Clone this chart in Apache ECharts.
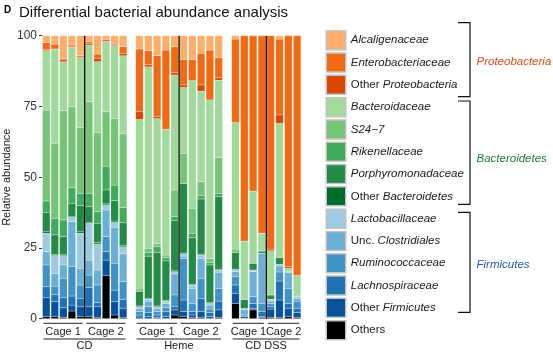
<!DOCTYPE html>
<html>
<head>
<meta charset="utf-8">
<script src="https://cdn.jsdelivr.net/npm/echarts@6/dist/echarts.min.js"></script>
<style>
  html, body { margin: 0; padding: 0; background: #fff; }
  #chart { width: 553px; height: 353px; }
</style>
</head>
<body>
<div id="chart"></div>
<script>
// samples per panel
var cdSamples = ['CD-1', 'CD-2', 'CD-3', 'CD-4', 'CD-5', 'CD-6', 'CD-7', 'CD-8', 'CD-9', 'CD-10']
var hemeSamples = ['H-1', 'H-2', 'H-3', 'H-4', 'H-5', 'H-6', 'H-7', 'H-8', 'H-9', 'H-10']
var dssSamples = ['D-1', 'D-2', 'D-3', 'D-4', 'D-5', 'D-6', 'D-7', 'D-8']
var groupNames = ['CD', 'Heme', 'CD DSS']
var cageNames = ['Cage 1', 'Cage 2']
var cage1Size = [5, 5, 4]
var yTicks = [0, 25, 50, 75, 100]

// relative abundance (%), 28 samples: CD x10, Heme x10, CD DSS x8
var others = [0.7, 0.7, 0.4, 2.7, 0.7, 0.7, 0.4, 15.2, 1.3, 0.4, 0, 0, 0, 0, 1.3, 0.7, 0.4, 0.4, 0, 0.4, 5.4, 0.2, 3.1, 0.4, 0.4, 0.4, 0.7, 0.4]
var otherFirmicutes = [6.7, 5.3, 3.5, 2.1, 3.5, 3.5, 3.8, 5.5, 4.7, 3.3, 0.6, 0.7, 0.5, 0.7, 1.8, 1.8, 0.9, 2.1, 0.7, 2.7, 3.6, 0.5, 0.4, 0.3, 3.0, 6.2, 3.0, 1.8]
var lachnospiraceae = [3.9, 2.5, 3.5, 3.2, 3.0, 6.8, 1.5, 3.0, 4.1, 3.1, 0.7, 1.5, 0.8, 1.8, 1.1, 4.1, 1.2, 4.7, 1.5, 3.1, 2.9, 0.3, 1.9, 1.8, 0.8, 6.7, 1.7, 1.5]
var ruminococcaceae = [7.7, 3.0, 6.9, 10.4, 4.7, 4.4, 6.2, 5.3, 9.5, 6.3, 1.2, 2.0, 1.2, 1.4, 4.2, 14.7, 2.9, 7.1, 1.2, 4.5, 2.9, 0.6, 2.4, 2.9, 1.2, 3.2, 5.3, 2.5]
var uncClostridiales = [4.7, 4.5, 4.7, 15.9, 5.9, 5.3, 5.3, 9.4, 12.7, 9.8, 1.0, 2.0, 1.0, 1.5, 7.4, 0.8, 5.3, 7.0, 1.4, 5.7, 1.8, 1.5, 8.8, 17.7, 0.8, 2.1, 5.7, 1.0]
var lactobacillaceae = [6.5, 6.3, 3.3, 1.5, 12.4, 13.0, 9.2, 1.8, 1.7, 2.5, 0.7, 0.7, 0.7, 0.8, 0.8, 0.8, 1.2, 1.2, 0.6, 0.8, 0.8, 0.5, 0.6, 0, 0.7, 0.6, 0.2, 0.8]
var otherBacteroidetes = [0.5, 0.4, 0.5, 0.4, 0.5, 0.4, 0.5, 0.4, 0.5, 0.5, 0.3, 0.3, 0.3, 0.3, 0.3, 0.3, 0.3, 0.3, 0.3, 0.3, 0, 0, 0, 0, 0, 0, 0, 0]
var porphyromonadaceae = [6.9, 6.9, 6.2, 4.6, 9.3, 5.5, 6.8, 4.9, 7.2, 8.0, 5.1, 14.9, 18.9, 13.9, 17.7, 24.6, 16.4, 19.5, 13.3, 25.6, 6.0, 3.2, 2.4, 0.8, 1.5, 2.4, 0, 0]
var rikenellaceae = [4.0, 5.9, 5.9, 5.5, 4.3, 4.7, 4.1, 8.4, 5.5, 5.3, 0.5, 1.3, 2.0, 1.2, 1.4, 0, 1.6, 1.2, 0.9, 1.2, 0, 0, 0, 0, 0, 0, 0, 0]
var s247 = [32.1, 26.5, 38.6, 28.6, 23.3, 32.4, 27.9, 19.2, 23.6, 26.1, 0.7, 1.5, 1.2, 0.9, 9.5, 10.6, 8.8, 4.9, 1.4, 12.6, 1.2, 0, 0, 0, 0, 0, 0, 0]
var bacteroidaceae = [21.0, 33.3, 17.3, 21.0, 24.7, 20.0, 25.1, 24.9, 25.7, 27.6, 59.6, 64.1, 44.1, 44.4, 40.6, 23.3, 45.1, 32.0, 56.0, 27.4, 44.7, 20.6, 25.5, 6.3, 15.6, 47.4, 1.2, 7.3]
var otherProteobacteria = [0.5, 0, 0.7, 0.4, 0.5, 0.6, 1.2, 0.5, 0.3, 0.9, 2.7, 0.8, 0.7, 0, 0.8, 0.9, 0, 2.2, 0, 0.9, 0, 0, 0, 0, 0.6, 3.0, 0.6, 0]
var enterobacteriaceae = [2.4, 1.7, 0.5, 0.4, 0.2, 0.5, 1.5, 0.3, 0.5, 2.3, 22.2, 4.9, 21.5, 28.0, 9.2, 9.0, 7.5, 11.2, 17.6, 7.1, 29.5, 72.6, 54.9, 69.8, 75.4, 26.8, 81.6, 84.7]
var alcaligenaceae = [2.4, 3.0, 8.0, 3.3, 7.0, 2.2, 6.5, 1.2, 2.7, 3.9, 4.7, 5.3, 7.1, 5.1, 3.9, 8.4, 8.4, 6.2, 5.1, 7.7, 1.2, 0, 0, 0, 0, 1.2, 0, 0]

// stacking order, bottom first
var taxa = [
  ['Others', others],
  ['Other Firmicutes', otherFirmicutes],
  ['Lachnospiraceae', lachnospiraceae],
  ['Ruminococcaceae', ruminococcaceae],
  ['Unc. Clostridiales', uncClostridiales],
  ['Lactobacillaceae', lactobacillaceae],
  ['Other Bacteroidetes', otherBacteroidetes],
  ['Porphyromonadaceae', porphyromonadaceae],
  ['Rikenellaceae', rikenellaceae],
  ['S24\u22127', s247],
  ['Bacteroidaceae', bacteroidaceae],
  ['Other Proteobacteria', otherProteobacteria],
  ['Enterobacteriaceae', enterobacteriaceae],
  ['Alcaligenaceae', alcaligenaceae]
]
var colors = ['#000000', '#08519c', '#2171b5', '#4292c6', '#6baed6', '#9ecae1',
  '#006d2c', '#238b45', '#41ab5d', '#74c476', '#a1d99b',
  '#d94801', '#f16913', '#fdae6b']

var FONT = 'Liberation Sans, Arial, sans-serif'
var chart = echarts.init(document.getElementById('chart'))
var panels = [cdSamples, hemeSamples, dssSamples]
// panel placement (px)
var gridLeft = [39.4, 135.1, 231.1]
var slotW = 8.8

var grids = []
var xAxes = []
var yAxes = []
var series = []
var offset = 0
panels.forEach(function (cats, gi) {
  grids.push({ left: gridLeft[gi], width: cats.length * slotW, top: 35.7, bottom: 34.3 })
  xAxes.push({
    gridIndex: gi, type: 'category', data: cats,
    axisLine: { show: false }, axisTick: { show: false }, axisLabel: { show: false }
  })
  yAxes.push({
    gridIndex: gi, type: 'value', min: 0, max: 100, interval: 25,
    show: gi === 0,
    name: gi === 0 ? 'Relative abundance' : '',
    nameLocation: 'middle', nameGap: 30,
    nameTextStyle: { fontSize: 11, color: '#1a1a1a', fontFamily: FONT },
    axisLine: { show: false },
    axisTick: { show: true, length: 3, lineStyle: { color: '#333' } },
    axisLabel: { fontSize: 12, color: '#333', fontFamily: FONT, margin: 5,
      formatter: function (v) { return yTicks.indexOf(v) >= 0 ? String(v) : '' } },
    splitLine: { show: false }
  })
  var start = offset
  taxa.forEach(function (t, ti) {
    series.push({
      type: 'bar', name: t[0], stack: 'p' + gi,
      xAxisIndex: gi, yAxisIndex: gi,
      barWidth: 7.6,
      data: t[1].slice(start, start + cats.length),
      itemStyle: { color: colors[ti], borderColor: 'rgba(255,255,255,0.35)', borderWidth: 0.3 },
      emphasis: { disabled: true }
    })
  })
  offset += cats.length
})

function legendLabel (name) {
  if (name === 'Others') return '{n|Others}'
  if (name.indexOf('Other ') === 0) return '{n|Other }{i|' + name.slice(6) + '}'
  if (name.indexOf('Unc. ') === 0) return '{n|Unc. }{i|' + name.slice(5) + '}'
  return '{i|' + name + '}'
}

var option = {
  animation: false,
  title: [
    { text: 'D', left: 4, top: 5, padding: 0, textStyle: { fontSize: 10, fontWeight: 'bold', color: '#000', fontFamily: FONT } },
    { text: 'Differential bacterial abundance analysis', left: 19, top: 5.5, padding: 0, textStyle: { fontSize: 15, fontWeight: 'normal', color: '#111', fontFamily: FONT } }
  ],
  grid: grids,
  xAxis: xAxes,
  yAxis: yAxes,
  legend: {
    orient: 'vertical', left: 325.5, top: 30, padding: 0, height: 340,
    itemWidth: 19.5, itemHeight: 19, itemGap: 1.8,
    selectedMode: false, icon: 'rect',
    data: taxa.map(function (t) { return t[0] }).reverse(),
    itemStyle: { borderColor: '#c4c4c4', borderWidth: 1.5 },
    formatter: legendLabel,
    textStyle: {
      fontSize: 11.5, color: '#1a1a1a', fontFamily: FONT,
      rich: {
        n: { fontSize: 11.5, color: '#1a1a1a', fontFamily: FONT, fontStyle: 'normal' },
        i: { fontSize: 11.5, color: '#1a1a1a', fontFamily: FONT, fontStyle: 'italic' }
      }
    }
  },
  series: series
}
chart.setOption(option)

// phylum brackets next to the legend
var phyla = [
  { text: 'Proteobacteria', color: '#e2471c', y1: 22.7, y2: 96.7, ty: 62 },
  { text: 'Bacteroidetes', color: '#1e7b37', y1: 101, y2: 204.3, ty: 158.5 },
  { text: 'Firmicutes', color: '#2356b0', y1: 212.3, y2: 312.3, ty: 265 }
]
var graphics = []
phyla.forEach(function (p) {
  graphics.push({ type: 'polyline', silent: true,
    shape: { points: [[458, p.y1], [470, p.y1], [470, p.y2], [458, p.y2]] },
    style: { stroke: '#111', lineWidth: 1.2, fill: null } })
  graphics.push({ type: 'text', silent: true, x: 476.5, y: p.ty,
    style: { text: p.text, fill: p.color, fontSize: 11.5, fontStyle: 'italic', fontFamily: FONT, verticalAlign: 'middle' } })
})

// cage separators, cage and group labels under each panel
panels.forEach(function (cats, gi) {
  var px = function (i) { return chart.convertToPixel({ xAxisIndex: gi }, cats[i]) }
  var y0 = chart.convertToPixel({ yAxisIndex: gi }, 0)
  var y100 = chart.convertToPixel({ yAxisIndex: gi }, 100)
  var half = slotW * 0.43
  var c1 = cage1Size[gi]
  var sepX = (px(c1 - 1) + px(c1)) / 2
  graphics.push({ type: 'line', silent: true, z: 10,
    shape: { x1: sepX, y1: y100, x2: sepX, y2: y0 },
    style: { stroke: '#111', lineWidth: 1.4 } })
  var spans = [[0, c1 - 1], [c1, cats.length - 1]]
  var ends = []
  spans.forEach(function (s, ci) {
    var a = px(s[0]) - half + 1
    var b = px(s[1]) + half - 1.5
    ends.push(a, b)
    graphics.push({ type: 'line', silent: true,
      shape: { x1: a, y1: y0 + 4.6, x2: b, y2: y0 + 4.6 },
      style: { stroke: '#222', lineWidth: 1 } })
    graphics.push({ type: 'text', silent: true, x: (a + b) / 2, y: y0 + 13.2,
      style: { text: cageNames[ci], fill: '#1a1a1a', fontSize: 11, fontFamily: FONT, align: 'center', verticalAlign: 'middle' } })
  })
  graphics.push({ type: 'line', silent: true,
    shape: { x1: ends[0], y1: y0 + 20.3, x2: ends[3], y2: y0 + 20.3 },
    style: { stroke: '#222', lineWidth: 1 } })
  graphics.push({ type: 'text', silent: true, x: (ends[0] + ends[3]) / 2, y: y0 + 27.5,
    style: { text: groupNames[gi], fill: '#1a1a1a', fontSize: 11, fontFamily: FONT, align: 'center', verticalAlign: 'middle' } })
})
chart.setOption({ graphic: graphics })
</script>
</body>
</html>
